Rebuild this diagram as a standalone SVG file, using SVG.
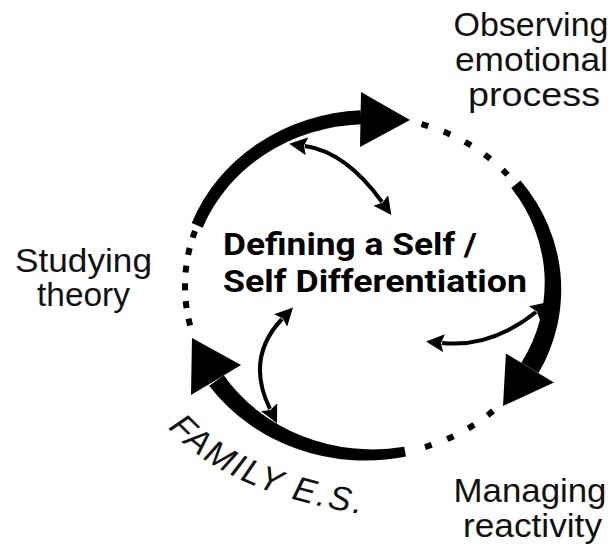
<svg xmlns="http://www.w3.org/2000/svg" width="616" height="552" viewBox="0 0 616 552">
  <style>
    .lbl{font-family:"Liberation Sans",Arial,sans-serif;font-size:33px;fill:#111;text-anchor:middle}
    .ctr{font-family:Roboto,"Noto Sans",sans-serif;font-weight:bold;font-size:31px;fill:#000}
    .fam{font-family:"Liberation Sans",Arial,sans-serif;font-style:italic;font-size:34px;fill:#111;letter-spacing:2.5px}
    .band{fill:#000;stroke:none}
    .dots{fill:none;stroke:#000;stroke-width:6}
    .thin{fill:none;stroke:#000;stroke-width:4;marker-start:url(#ah);marker-end:url(#ah)}
  </style>
  <defs>
    <marker id="ah" viewBox="0 0 18 18" refX="2" refY="9" markerWidth="18" markerHeight="18" markerUnits="userSpaceOnUse" orient="auto-start-reverse">
      <path d="M0,0 L18,9 L0,18 L3,9 Z" fill="#000"/>
    </marker>
    <path id="famPath" d="M168,428 Q235,502 400,519"/>
  </defs>
  <rect width="616" height="552" fill="#fff"/>

  <g id="connectors">
    <path class="band" d="M191.7,223.1 A190.5,175.5 0 0 1 360.7,110.2 L361.3,124.2 A177.5,162.5 0 0 0 202.7,227.7 Z"/>
    <polygon class="band" points="361,92 410,120 360,147"/>
    <path class="band" d="M520.5,180.5 A192,177 0 0 1 538.5,373.1 L521.3,362.7 A176,161 0 0 0 511.3,188.1 Z"/>
    <polygon class="band" points="505.9,353.4 553.9,382.4 503,406"/>
    <path class="band" d="M406,456.6 A191,176 0 0 1 209.2,385.8 L223.8,375.2 A177,162 0 0 0 404.2,446.8 Z"/>
    <polygon class="band" points="191,395 241,365 192,338"/>
    <path class="dots" stroke-dasharray="7 16.5" d="M421.5,124.1 A184,169 0 0 1 509.9,177.3"/>
    <path class="dots" stroke-dasharray="7 16.5" d="M493,410.9 A184,169 0 0 1 421.3,448.1"/>
    <path class="dots" stroke-dasharray="7 10.8" d="M190.1,325.5 A184,169 0 0 1 195,231"/>
    <path class="thin" d="M305,146 Q346,152 382,202"/>
    <path class="thin" d="M536,312 Q491,348 442,343"/>
    <path class="thin" d="M270,409 Q245,358 282,319"/>
  </g>

  <g id="node-center">
    <text class="ctr" x="223" y="255" textLength="254" lengthAdjust="spacingAndGlyphs">Defining a Self /</text>
    <text class="ctr" x="223" y="292" textLength="304" lengthAdjust="spacingAndGlyphs">Self Differentiation</text>
  </g>

  <g id="node-observing">
    <text class="lbl" x="531" y="36" textLength="155" lengthAdjust="spacingAndGlyphs">Observing</text>
    <text class="lbl" x="531.5" y="71" textLength="153" lengthAdjust="spacingAndGlyphs">emotional</text>
    <text class="lbl" x="534" y="106" textLength="132" lengthAdjust="spacingAndGlyphs">process</text>
  </g>

  <g id="node-studying">
    <text class="lbl" x="83.5" y="272" textLength="137" lengthAdjust="spacingAndGlyphs">Studying</text>
    <text class="lbl" x="83.5" y="306" textLength="93" lengthAdjust="spacingAndGlyphs">theory</text>
  </g>

  <g id="node-managing">
    <text class="lbl" x="530" y="502" textLength="153" lengthAdjust="spacingAndGlyphs">Managing</text>
    <text class="lbl" x="532.5" y="537" textLength="139" lengthAdjust="spacingAndGlyphs">reactivity</text>
  </g>

  <g id="node-family">
    <text class="fam"><textPath href="#famPath">FAMILY E.S.</textPath></text>
  </g>
</svg>
